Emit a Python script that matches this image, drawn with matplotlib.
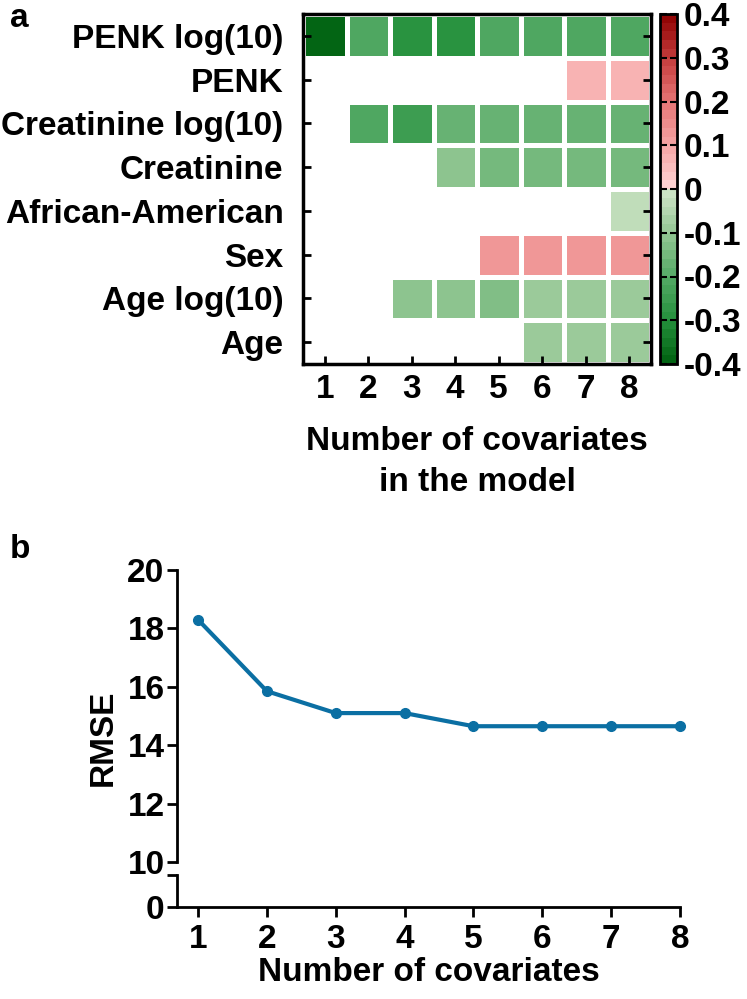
import numpy as np
import matplotlib
matplotlib.use("Agg")
import matplotlib.pyplot as plt
from matplotlib.colors import LinearSegmentedColormap, ListedColormap
import matplotlib.colorbar as mcolorbar

plt.rcParams['font.family'] = ['Liberation Sans', 'DejaVu Sans']
plt.rcParams['font.weight'] = 'bold'

# panel a: coefficients per covariate (rows) vs model size (columns)
covariates = ['PENK log(10)', 'PENK', 'Creatinine log(10)', 'Creatinine',
              'African-American', 'Sex', 'Age log(10)', 'Age']
n_cov = [1, 2, 3, 4, 5, 6, 7, 8]
nan = np.nan
coef = [
    [-0.40, -0.22, -0.29, -0.30, -0.21, -0.22, -0.22, -0.21],
    [nan, nan, nan, nan, nan, nan, 0.07, 0.07],
    [nan, -0.22, -0.25, -0.17, -0.17, -0.17, -0.17, -0.17],
    [nan, nan, nan, -0.11, -0.16, -0.16, -0.16, -0.16],
    [nan, nan, nan, nan, nan, nan, nan, -0.04],
    [nan, nan, nan, nan, 0.12, 0.12, 0.12, 0.12],
    [nan, nan, -0.12, -0.12, -0.14, -0.09, -0.09, -0.09],
    [nan, nan, nan, nan, nan, -0.08, -0.08, -0.08],
]
cbar_ticks = [-0.4, -0.3, -0.2, -0.1, 0, 0.1, 0.2, 0.3, 0.4]
cbar_labels = ['-0.4', '-0.3', '-0.2', '-0.1', '0', '0.1', '0.2', '0.3', '0.4']

# panel b: RMSE
rmse = [18.3, 15.85, 15.1, 15.1, 14.65, 14.65, 14.65, 14.65]

# colormap: green for negative, red for positive, stepped
anchors = [(0.0, '#006010'), (0.125, '#24903c'), (0.25, '#55aa66'),
           (0.375, '#94c794'), (0.4999, '#d2e7ca'), (0.5001, '#ffd6d6'),
           (0.625, '#f5a5a5'), (0.75, '#e67575'), (0.875, '#c43c3c'),
           (1.0, '#8e0000')]
base = LinearSegmentedColormap.from_list('gr', anchors)
cmap = ListedColormap(base(np.linspace(0.0125, 0.9875, 40)))
cmap.set_bad('white')

W, H = 747, 999
fig = plt.figure(figsize=(W / 100, H / 100), dpi=100)
fs = 24

ax = fig.add_axes([303 / W, 1 - 364 / H, 348 / W, 350 / H])
data = np.ma.masked_invalid(np.array(coef))
ax.pcolormesh(np.arange(0.5, 9.5), np.arange(0.5, 9.5), data, cmap=cmap,
              vmin=-0.4, vmax=0.4, edgecolors='white', linewidth=2.5)
ax.set_xlim(0.5, 8.5)
ax.set_ylim(8.5, 0.5)
ax.set_xticks(n_cov)
ax.set_xticklabels([str(n) for n in n_cov], fontsize=fs, fontweight='bold')
ax.set_yticks(np.arange(1, 9))
ax.set_yticklabels(covariates, fontsize=fs, fontweight='bold')
ax.tick_params(axis='both', direction='in', length=6, width=2, right=True)
ax.tick_params(axis='y', pad=14)
ax.tick_params(axis='x', pad=7)
for s in ax.spines.values():
    s.set_linewidth(2.5)
ax.set_xlabel('Number of covariates\nin the model', fontsize=fs,
              fontweight='bold', linespacing=1.45, labelpad=15)

cax = fig.add_axes([660 / W, 1 - 364 / H, 17 / W, 350 / H])
cb = mcolorbar.ColorbarBase(cax, cmap=cmap,
                            norm=matplotlib.colors.Normalize(-0.4, 0.4))
cb.set_ticks(cbar_ticks)
cb.set_ticklabels(cbar_labels)
cb.outline.set_linewidth(2)
cax.tick_params(direction='in', length=5, width=1.5, left=True, right=True,
                labelsize=fs, pad=5)
for t in cax.get_yticklabels():
    t.set_fontweight('bold')

# panel b with broken y axis
xlim = (0.695, 8.0)
axt = fig.add_axes([177 / W, 1 - 862 / H, 503 / W, 292 / H])
axb = fig.add_axes([177 / W, 1 - 907 / H, 503 / W, 32 / H])
axt.plot(n_cov, rmse, color='#0b6fa3', lw=3, marker='o', ms=7, clip_on=False)
axt.set_xlim(*xlim)
axt.set_ylim(10, 20)
axt.set_yticks([10, 12, 14, 16, 18, 20])
axt.set_yticklabels(['10', '12', '14', '16', '18', '20'], fontsize=fs,
                    fontweight='bold')
axt.set_xticks([])
for s in ['top', 'right', 'bottom']:
    axt.spines[s].set_visible(False)
axt.spines['left'].set_linewidth(2)
axt.tick_params(axis='y', direction='out', length=7, width=2, pad=2)

axb.set_xlim(*xlim)
axb.set_ylim(0, 1)
axb.set_yticks([0, 1])
axb.set_yticklabels(['0', ''], fontsize=fs, fontweight='bold')
axb.set_xticks(n_cov)
axb.set_xticklabels([str(n) for n in n_cov], fontsize=fs, fontweight='bold')
for s in ['top', 'right']:
    axb.spines[s].set_visible(False)
axb.spines['left'].set_linewidth(2)
axb.spines['bottom'].set_linewidth(2)
axb.spines['bottom'].set_bounds(xlim[0], 8)
axb.tick_params(axis='y', direction='out', length=7, width=2, pad=2)
axb.tick_params(axis='x', direction='out', length=7, width=2, pad=5)
axb.set_xlabel('Number of covariates', fontsize=fs, fontweight='bold',
               labelpad=2)

fig.text(103 / W, 1 - 738 / H, 'RMSE', rotation=90, ha='center', va='center',
         fontsize=fs, fontweight='bold')
fig.text(10 / W, 1 - 3 / H, 'a', ha='left', va='top', fontsize=fs,
         fontweight='bold')
fig.text(10 / W, 1 - 534 / H, 'b', ha='left', va='top', fontsize=fs,
         fontweight='bold')

fig.savefig('out.png', dpi=100)
